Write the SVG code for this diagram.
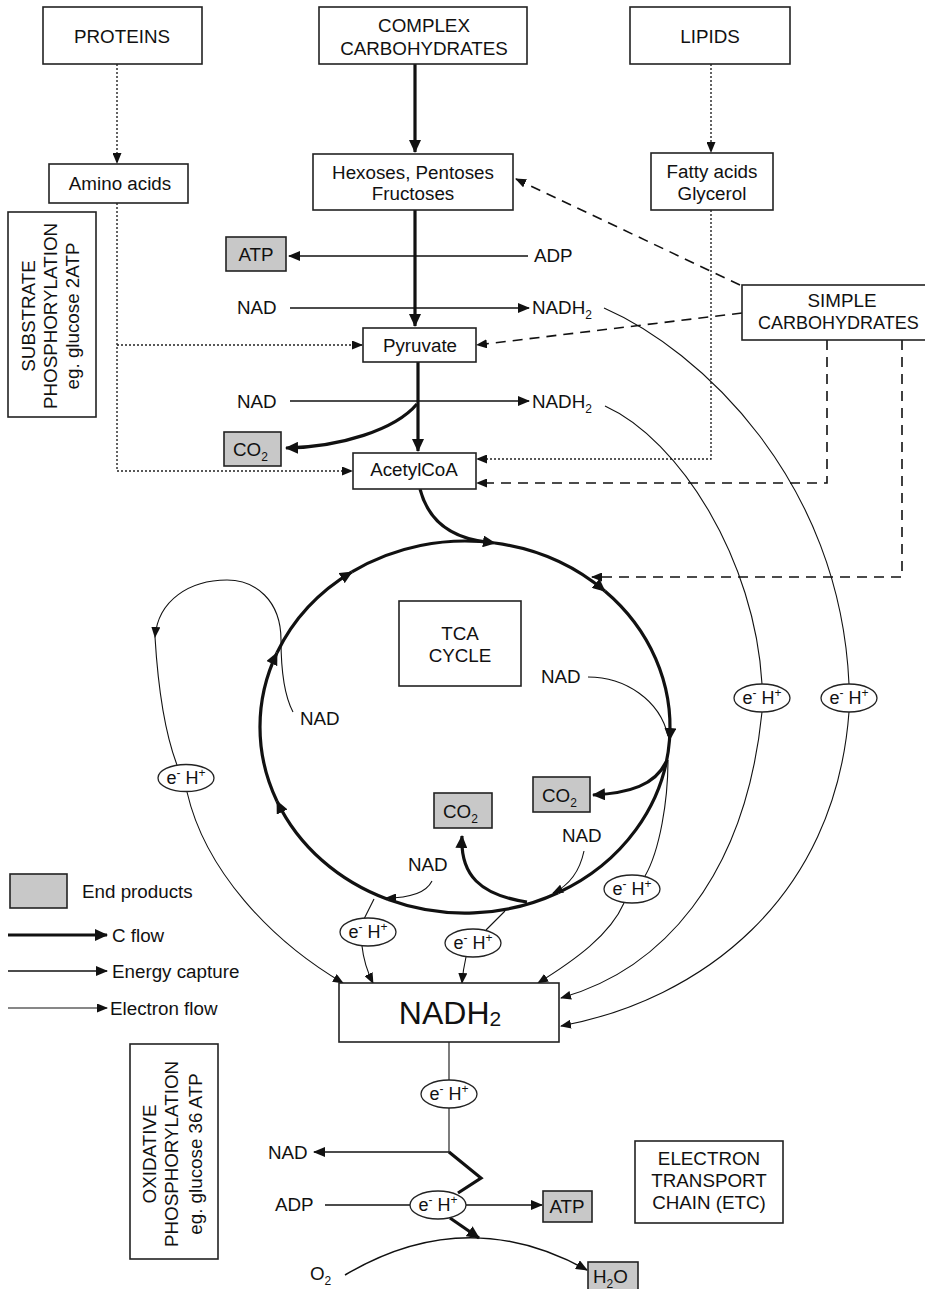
<svg xmlns="http://www.w3.org/2000/svg" width="925" height="1289" viewBox="0 0 925 1289">
<style>
.t{font-family:"Liberation Sans",Arial,sans-serif;font-size:18.8px;fill:#111}
.m{text-anchor:middle}
.big{font-size:32px}
.e{font-family:"Liberation Sans",Arial,sans-serif;font-size:18px;fill:#111;text-anchor:middle}
.box{fill:#fff;stroke:#222;stroke-width:1.6}
.gray{fill:#c8c8c8;stroke:#222;stroke-width:1.6}
.ell{fill:#fff;stroke:#222;stroke-width:1.3}
.thick{fill:none;stroke:#111;stroke-width:3.2}
.med{fill:none;stroke:#111;stroke-width:1.5}
.thin{fill:none;stroke:#111;stroke-width:1.1}
.dot{fill:none;stroke:#222;stroke-width:1.4;stroke-dasharray:2 2}
.dash{fill:none;stroke:#111;stroke-width:1.6;stroke-dasharray:10 7}
</style>
<defs>
<marker id="aK" markerUnits="userSpaceOnUse" markerWidth="13" markerHeight="12" viewBox="0 0 13 12" refX="12" refY="6" orient="auto"><path d="M0,0 L13,6 L0,12 z" fill="#111"/></marker>
<marker id="aM" markerUnits="userSpaceOnUse" markerWidth="12" markerHeight="10" viewBox="0 0 12 10" refX="11" refY="5" orient="auto"><path d="M0,0 L12,5 L0,10 z" fill="#111"/></marker>
<marker id="aT" markerUnits="userSpaceOnUse" markerWidth="11" markerHeight="9" viewBox="0 0 11 9" refX="10" refY="4.5" orient="auto"><path d="M0,0 L11,4.5 L0,9 z" fill="#111"/></marker>
</defs>

<g id="connectors">
<path class="thick" d="M415,64 L415,152" marker-end="url(#aK)"/>
<path class="thick" d="M415,210 L415,326" marker-end="url(#aK)"/>
<path class="thick" d="M418,362 L418,451" marker-end="url(#aK)"/>
<path class="thick" d="M417,404 C395,430 340,447 286,448" marker-end="url(#aK)"/>
<path class="thick" d="M420,489 C428,520 450,538 487,542"/>
<path class="thick" d="M388.2,899.5 A205,186 0 0 1 277.0,801.2" marker-end="url(#aK)"/>
<path class="thick" d="M277.0,801.2 A205,186 0 0 1 277.0,652.8" marker-end="url(#aK)"/>
<path class="thick" d="M277.0,652.8 A205,186 0 0 1 351.9,571.9" marker-end="url(#aK)"/>
<path class="thick" d="M351.9,571.9 A205,186 0 0 1 494.9,543.0" marker-end="url(#aK)"/>
<path class="thick" d="M494.9,543.0 A205,186 0 0 1 604.8,591.0" marker-end="url(#aK)"/>
<path class="thick" d="M604.8,591.0 A205,186 0 0 1 669.5,740.0" marker-end="url(#aK)"/>
<path class="thick" d="M669.5,740.0 A205,186 0 0 1 558.1,892.7"/>
<path class="thick" d="M558.1,892.7 A205,186 0 0 1 388.2,899.5"/>
<path class="thick" d="M666,762 C655,785 630,793 593,795" marker-end="url(#aK)"/>
<path class="thick" d="M527,902 C480,895 460,875 462,836" marker-end="url(#aK)"/>
<path class="thick" d="M449,1152 L481,1178 L458,1193"/>
<path class="thick" d="M450,1218 L479,1238" marker-end="url(#aK)"/>

<path class="dot" d="M117,64 L117,163" marker-end="url(#aT)"/>
<path class="dot" d="M117,203 L117,471 L352,471" marker-end="url(#aT)"/>
<path class="dot" d="M117,345 L362,345" marker-end="url(#aT)"/>
<path class="dot" d="M711,64 L711,152" marker-end="url(#aT)"/>
<path class="dot" d="M711,210 L711,459 L477,459" marker-end="url(#aT)"/>

<path class="dash" d="M740,285 L516,179" marker-end="url(#aT)"/>
<path class="dash" d="M742,313 L477,345" marker-end="url(#aT)"/>
<path class="dash" d="M827,340 L827,483 L477,483" marker-end="url(#aT)"/>
<path class="dash" d="M902,340 L902,577 L592,577" marker-end="url(#aT)"/>

<path class="med" d="M528,256 L289,256" marker-end="url(#aM)"/>
<path class="med" d="M290,308 L529,308" marker-end="url(#aM)"/>
<path class="med" d="M290,401 L529,401" marker-end="url(#aM)"/>
<path class="med" d="M449,1152 L314,1152" marker-end="url(#aM)"/>
<path class="med" d="M325,1205 L410,1205"/>
<path class="med" d="M466,1205 L542,1205" marker-end="url(#aM)"/>
<path class="med" d="M345,1275 Q466,1203 587,1270" marker-end="url(#aM)"/>

<path class="thin" d="M604,308 C700,350 840,480 849,684"/>
<path class="thin" d="M849,712 C835,900 700,1000 561,1026" marker-end="url(#aT)"/>
<path class="thin" d="M605,406 C680,440 755,560 762,684"/>
<path class="thin" d="M762,712 C745,880 660,970 561,998" marker-end="url(#aT)"/>
<path class="thin" d="M293,712 C284,695 281,665 281,640 C281,600 255,580 227,580 C190,580 158,600 155,637" marker-end="url(#aT)"/>
<path class="thin" d="M155,637 Q160,720 177,765"/>
<path class="thin" d="M187,792 C205,870 270,940 343,983" marker-end="url(#aT)"/>
<path class="thin" d="M432,881 C425,895 405,898 386,898" marker-end="url(#aT)"/>
<path class="thin" d="M374,899 L364,919"/>
<path class="thin" d="M362,946 Q364,965 373,983" marker-end="url(#aT)"/>
<path class="thin" d="M584,851 C580,870 570,885 553,893" marker-end="url(#aT)"/>
<path class="thin" d="M505,911 L486,930"/>
<path class="thin" d="M466,957 Q463,970 462,983" marker-end="url(#aT)"/>
<path class="thin" d="M588,677 C625,677 660,700 668,736"/>
<path class="thin" d="M668,760 C668,800 660,850 645,876"/>
<path class="thin" d="M624,903 C610,935 575,960 538,983" marker-end="url(#aT)"/>
<path class="thin" d="M449,1042 L449,1080"/>
<path class="thin" d="M449,1108 L449,1152"/>

<path class="thick" d="M8,935 L107,935" marker-end="url(#aK)"/>
<path class="med" d="M8,971 L107,971" marker-end="url(#aM)"/>
<path class="thin" d="M8,1008 L107,1008" marker-end="url(#aT)"/>
</g>

<g id="proteins"><rect class="box" x="43" y="7" width="159" height="57"/><text class="t m" x="122" y="43">PROTEINS</text></g>
<g id="complex-carbohydrates"><rect class="box" x="319" y="7" width="208" height="57"/><text class="t m" x="424" y="32">COMPLEX</text><text class="t m" x="424" y="55">CARBOHYDRATES</text></g>
<g id="lipids"><rect class="box" x="630" y="7" width="160" height="57"/><text class="t m" x="710" y="43">LIPIDS</text></g>
<g id="amino-acids"><rect class="box" x="49" y="164" width="139" height="39"/><text class="t m" x="120" y="190">Amino acids</text></g>
<g id="hexoses"><rect class="box" x="313" y="154" width="200" height="56"/><text class="t m" x="413" y="179">Hexoses, Pentoses</text><text class="t m" x="413" y="200">Fructoses</text></g>
<g id="fatty-acids"><rect class="box" x="651" y="153" width="122" height="57"/><text class="t m" x="712" y="178">Fatty acids</text><text class="t m" x="712" y="200">Glycerol</text></g>
<g id="substrate-phosphorylation"><rect class="box" x="8" y="212" width="88" height="205"/>
<text class="t m" transform="translate(35,316) rotate(-90)">SUBSTRATE</text>
<text class="t m" transform="translate(57,316) rotate(-90)">PHOSPHORYLATION</text>
<text class="t m" transform="translate(79,316) rotate(-90)">eg. glucose 2ATP</text></g>
<g id="atp-top"><rect class="gray" x="226" y="237" width="60" height="34"/><text class="t m" x="256" y="261">ATP</text></g>
<g id="adp-top"><text class="t" x="534" y="262">ADP</text></g>
<g id="nad-1"><text class="t" x="237" y="314">NAD</text></g>
<g id="nadh2-1"><text class="t" x="532" y="314">NADH<tspan font-size="12" dy="5">2</tspan></text></g>
<g id="simple-carbohydrates"><rect class="box" x="742" y="285" width="200" height="55"/><text class="t m" x="842" y="307">SIMPLE</text><text class="t" x="758" y="329" style="font-size:18px">CARBOHYDRATES</text></g>
<g id="pyruvate"><rect class="box" x="363" y="328" width="113" height="34"/><text class="t m" x="420" y="352">Pyruvate</text></g>
<g id="nad-2"><text class="t" x="237" y="408">NAD</text></g>
<g id="nadh2-2"><text class="t" x="532" y="408">NADH<tspan font-size="12" dy="5">2</tspan></text></g>
<g id="co2-top"><rect class="gray" x="224" y="432" width="57" height="34"/><text class="t" x="233" y="456">CO<tspan font-size="12" dy="5">2</tspan></text></g>
<g id="acetylcoa"><rect class="box" x="353" y="453" width="123" height="36"/><text class="t m" x="414" y="476">AcetylCoA</text></g>
<g id="tca-cycle"><rect class="box" x="399" y="601" width="122" height="85"/><text class="t m" x="460" y="640">TCA</text><text class="t m" x="460" y="662">CYCLE</text></g>
<g id="nad-left"><text class="t" x="300" y="725">NAD</text></g>
<g id="nad-right"><text class="t" x="541" y="683">NAD</text></g>
<g id="co2-right"><rect class="gray" x="533" y="777" width="57" height="35"/><text class="t" x="542" y="802">CO<tspan font-size="12" dy="5">2</tspan></text></g>
<g id="co2-mid"><rect class="gray" x="434" y="793" width="58" height="35"/><text class="t" x="443" y="818">CO<tspan font-size="12" dy="5">2</tspan></text></g>
<g id="nad-lower-right"><text class="t" x="562" y="842">NAD</text></g>
<g id="nad-lower-left"><text class="t" x="408" y="871">NAD</text></g>

<g id="eh-1"><ellipse class="ell" cx="186" cy="778" rx="28" ry="13.5"/><text class="e" x="186" y="784">e<tspan font-size="12" dy="-7">-</tspan><tspan dy="7"> H</tspan><tspan font-size="12" dy="-7">+</tspan></text></g>
<g id="eh-2"><ellipse class="ell" cx="762" cy="698" rx="28" ry="14"/><text class="e" x="762" y="704">e<tspan font-size="12" dy="-7">-</tspan><tspan dy="7"> H</tspan><tspan font-size="12" dy="-7">+</tspan></text></g>
<g id="eh-3"><ellipse class="ell" cx="849" cy="698" rx="28" ry="14"/><text class="e" x="849" y="704">e<tspan font-size="12" dy="-7">-</tspan><tspan dy="7"> H</tspan><tspan font-size="12" dy="-7">+</tspan></text></g>
<g id="eh-4"><ellipse class="ell" cx="632" cy="889" rx="28" ry="14"/><text class="e" x="632" y="895">e<tspan font-size="12" dy="-7">-</tspan><tspan dy="7"> H</tspan><tspan font-size="12" dy="-7">+</tspan></text></g>
<g id="eh-5"><ellipse class="ell" cx="368" cy="932" rx="28" ry="14"/><text class="e" x="368" y="938">e<tspan font-size="12" dy="-7">-</tspan><tspan dy="7"> H</tspan><tspan font-size="12" dy="-7">+</tspan></text></g>
<g id="eh-6"><ellipse class="ell" cx="473" cy="943" rx="28" ry="14"/><text class="e" x="473" y="949">e<tspan font-size="12" dy="-7">-</tspan><tspan dy="7"> H</tspan><tspan font-size="12" dy="-7">+</tspan></text></g>

<g id="legend">
<rect class="gray" x="10" y="874" width="57" height="34"/>
<text class="t" x="82" y="898">End products</text>
<text class="t" x="112" y="942">C flow</text>
<text class="t" x="112" y="978">Energy capture</text>
<text class="t" x="110" y="1015">Electron flow</text>
</g>

<g id="nadh2-main"><rect class="box" x="339" y="983" width="220" height="59"/><text class="t m big" x="450" y="1024">NADH<tspan style="font-size:21px" dy="2">2</tspan></text></g>
<g id="eh-7"><ellipse class="ell" cx="449" cy="1094" rx="28" ry="14"/><text class="e" x="449" y="1100">e<tspan font-size="12" dy="-7">-</tspan><tspan dy="7"> H</tspan><tspan font-size="12" dy="-7">+</tspan></text></g>
<g id="oxidative-phosphorylation"><rect class="box" x="130" y="1044" width="88" height="215"/>
<text class="t m" transform="translate(156,1154) rotate(-90)">OXIDATIVE</text>
<text class="t m" transform="translate(178,1154) rotate(-90)">PHOSPHORYLATION</text>
<text class="t m" transform="translate(202,1154) rotate(-90)">eg. glucose 36 ATP</text></g>
<g id="nad-bottom"><text class="t" x="268" y="1159">NAD</text></g>
<g id="adp-bottom"><text class="t" x="275" y="1211">ADP</text></g>
<g id="eh-8"><ellipse class="ell" cx="438" cy="1205" rx="28" ry="14"/><text class="e" x="438" y="1211">e<tspan font-size="12" dy="-7">-</tspan><tspan dy="7"> H</tspan><tspan font-size="12" dy="-7">+</tspan></text></g>
<g id="atp-bottom"><rect class="gray" x="543" y="1191" width="49" height="31"/><text class="t m" x="567" y="1213">ATP</text></g>
<g id="etc"><rect class="box" x="635" y="1141" width="148" height="82"/><text class="t m" x="709" y="1165">ELECTRON</text><text class="t m" x="709" y="1187">TRANSPORT</text><text class="t m" x="709" y="1209">CHAIN (ETC)</text></g>
<g id="o2"><text class="t" x="310" y="1280">O<tspan font-size="12" dy="5">2</tspan></text></g>
<g id="h2o"><rect class="gray" x="588" y="1262" width="50" height="34"/><text class="t" x="593" y="1283">H<tspan font-size="12" dy="5">2</tspan><tspan dy="-5">O</tspan></text></g>
</svg>
